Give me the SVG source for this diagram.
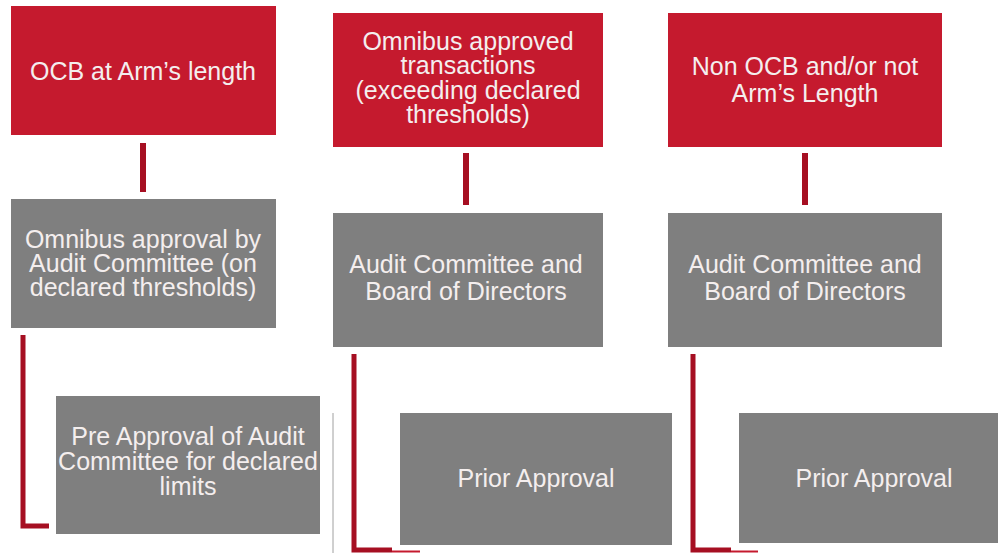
<svg xmlns="http://www.w3.org/2000/svg" width="1000" height="553" viewBox="0 0 1000 553">
<style>
.red{fill:#c51a2e}
.gray{fill:#7f7f7f}
.t{font-family:"Liberation Sans",Arial,sans-serif;font-size:25px;text-anchor:middle;fill:#f4eeee}
.c{fill:none;stroke:#a60f22;stroke-width:6;stroke-linecap:butt}
.l{fill:none;stroke:#a60f22;stroke-width:5;stroke-linejoin:miter}
</style>
<rect width="1000" height="553" fill="#ffffff"/>
<g id="connectors">
<line class="c" x1="143" y1="143" x2="143" y2="192"/>
<line class="c" x1="466" y1="153" x2="466" y2="205"/>
<line class="c" x1="805" y1="153" x2="805" y2="205"/>
<polyline class="l" points="23,335 23,526 49,526"/>
<polyline class="l" points="354,354 354,550 392,550"/>
<line x1="392" y1="551.5" x2="420" y2="551.5" stroke="#c51a2e" stroke-width="2"/>
<polyline class="l" points="693,354 693,550 731,550"/>
<line x1="731" y1="551.5" x2="758" y2="551.5" stroke="#c51a2e" stroke-width="2"/>
<line x1="333" y1="413" x2="333" y2="553" stroke="#a0a0a0" stroke-width="1"/>
</g>
<g id="n-ocb">
<rect class="red" x="11" y="6" width="265" height="129"/>
<text class="t" x="143" y="80">OCB at Arm’s length</text>
</g>
<g id="n-omnibus-tx">
<rect class="red" x="333" y="13" width="270" height="134"/>
<text class="t" x="468" y="50">Omnibus approved</text>
<text class="t" x="468" y="74">transactions</text>
<text class="t" x="468" y="99">(exceeding declared</text>
<text class="t" x="468" y="123">thresholds)</text>
</g>
<g id="n-nonocb">
<rect class="red" x="668" y="13" width="274" height="134"/>
<text class="t" x="805" y="75">Non OCB and/or not</text>
<text class="t" x="805" y="102">Arm’s Length</text>
</g>
<g id="n-omnibus-ac">
<rect class="gray" x="11" y="199" width="265" height="129"/>
<text class="t" x="143" y="248">Omnibus approval by</text>
<text class="t" x="143" y="272">Audit Committee (on</text>
<text class="t" x="143" y="296">declared thresholds)</text>
</g>
<g id="n-acbod-2">
<rect class="gray" x="333" y="213" width="270" height="134"/>
<text class="t" x="466" y="273">Audit Committee and</text>
<text class="t" x="466" y="300">Board of Directors</text>
</g>
<g id="n-acbod-3">
<rect class="gray" x="668" y="213" width="274" height="134"/>
<text class="t" x="805" y="273">Audit Committee and</text>
<text class="t" x="805" y="300">Board of Directors</text>
</g>
<g id="n-preapproval">
<rect class="gray" x="56" y="396" width="264" height="138"/>
<text class="t" x="188" y="445">Pre Approval of Audit</text>
<text class="t" x="188" y="470">Committee for declared</text>
<text class="t" x="188" y="495">limits</text>
</g>
<g id="n-prior-2">
<rect class="gray" x="400" y="413" width="272" height="132"/>
<text class="t" x="536" y="487">Prior Approval</text>
</g>
<g id="n-prior-3">
<rect class="gray" x="739" y="413" width="259" height="130"/>
<text class="t" x="874" y="487">Prior Approval</text>
</g>
</svg>
